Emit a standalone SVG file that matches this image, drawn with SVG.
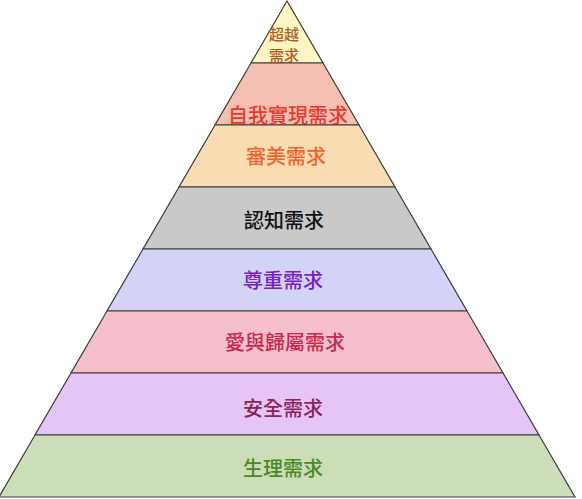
<svg xmlns="http://www.w3.org/2000/svg" width="582" height="499" viewBox="0 0 582 499">
<style>
.band{stroke:#3a3a3a;stroke-width:1.2;stroke-linejoin:miter}
.lbl{font-family:"Noto Sans CJK TC","Noto Sans CJK SC",sans-serif;font-size:20px;font-weight:500;text-anchor:middle;dominant-baseline:central}
.sm{font-size:15px}
</style>
<rect width="582" height="499" fill="#ffffff"/>
<g id="n1"><polygon class="band" fill="#fdf6c4" points="287,1 251,63 323,63"/>
<text class="lbl sm" x="284" y="33.5" fill="#b35c1e">超越</text>
<text class="lbl sm" x="284" y="54" fill="#b35c1e">需求</text></g>
<g id="n2"><polygon class="band" fill="#f5c0b1" points="251,63 323,63 359,125 215,125"/>
<text class="lbl" x="288" y="114" fill="#e53a2e">自我實現需求</text></g>
<g id="n3"><polygon class="band" fill="#fadcb2" points="215,125 359,125 395,187 179,187"/>
<text class="lbl" x="286" y="155" fill="#f0632f">審美需求</text></g>
<g id="n4"><polygon class="band" fill="#c9c9c9" points="179,187 395,187 431,249 143,249"/>
<text class="lbl" x="284" y="219" fill="#111111">認知需求</text></g>
<g id="n5"><polygon class="band" fill="#d3d3f8" points="143,249 431,249 467,311 107,311"/>
<text class="lbl" x="283" y="279" fill="#7a22c2">尊重需求</text></g>
<g id="n6"><polygon class="band" fill="#f5c0cc" points="107,311 467,311 503,373 71,373"/>
<text class="lbl" x="285" y="341" fill="#c8284e">愛與歸屬需求</text></g>
<g id="n7"><polygon class="band" fill="#e5c5f8" points="71,373 503,373 539,435 35,435"/>
<text class="lbl" x="283" y="407" fill="#8a2456">安全需求</text></g>
<g id="n8"><polygon class="band" fill="#cbdeb9" points="35,435 539,435 575,497 -1,497"/>
<text class="lbl" x="283" y="467" fill="#4a8a22">生理需求</text></g>
<g id="connectors"></g>
</svg>
